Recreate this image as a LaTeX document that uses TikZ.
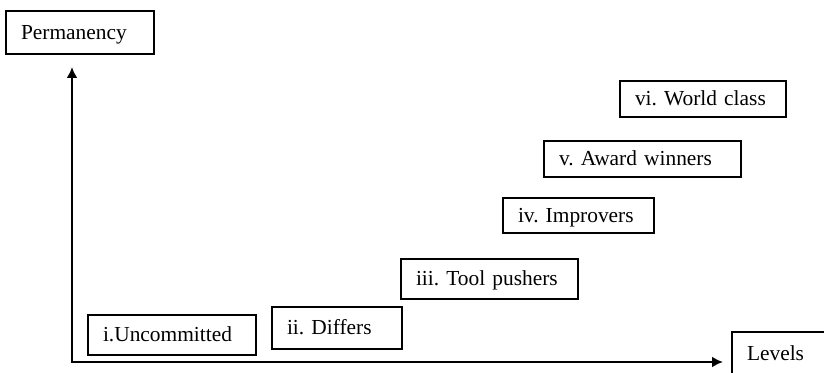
\documentclass[tikz,border=0pt]{standalone}
\usepackage{fontspec}
\setmainfont{Liberation Serif}
\usetikzlibrary{arrows.meta}
\begin{document}
\begin{tikzpicture}[x=0.5pt,y=-0.5pt]
  \useasboundingbox (0,0) rectangle (824,373);
  \clip (0,0) rectangle (824,373);
  \begin{scope}[every node/.style={draw,line width=1pt,anchor=north west,outer sep=0pt,
      inner xsep=7.5pt,align=left,text height=0.66em,text depth=0pt,
      font=\fontsize{10.7}{12}\selectfont\frenchspacing}]
    \node[text width=59pt,minimum height=21.5pt] (perm) at (6,11) {Permanency};
    \node[text width=69pt,minimum height=20pt] (uncommitted) at (88,315) {i.Uncommitted};
    \node[text width=50pt,minimum height=21pt] (differs) at (272,307) {ii. Differs};
    \node[text width=73.5pt,minimum height=20pt] (pushers) at (401,259) {iii. Tool pushers};
    \node[text width=60.5pt,minimum height=17.5pt] (improvers) at (503,198) {iv. Improvers};
    \node[text width=83.5pt,minimum height=18pt] (award) at (544,141) {v. Award winners};
    \node[text width=68pt,minimum height=18pt] (world) at (620,81) {vi. World class};
    \node[text width=80pt,minimum height=21.5pt] (levels) at (732,332) {Levels};
  \end{scope}
  \coordinate (origin) at (72,362);
  \draw[line width=1.3pt,{Latex[length=5.5pt,width=5.5pt]}-{Latex[length=5.5pt,width=5.5pt]},
    shorten <=6.5pt,shorten >=4.5pt]
    (origin |- perm.south) -- (origin) -- (origin -| levels.west);
\end{tikzpicture}
\end{document}
